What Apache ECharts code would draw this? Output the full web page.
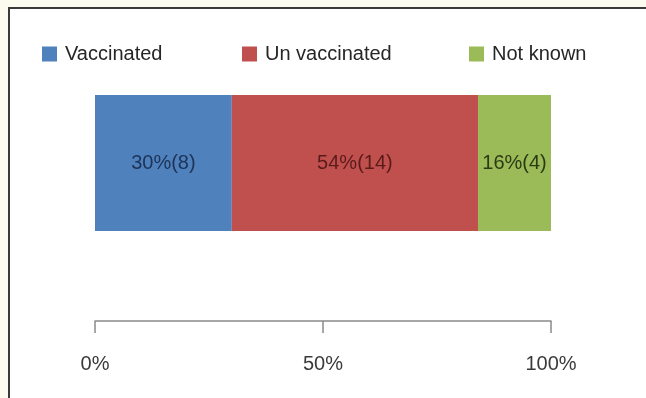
<!DOCTYPE html>
<html>
<head>
<meta charset="utf-8">
<script src="https://cdn.jsdelivr.net/npm/echarts@6/dist/echarts.min.js"></script>
<style>
  html, body { margin: 0; padding: 0; background: #fbfbef; }
  #chart { width: 646px; height: 398px; }
</style>
</head>
<body>
<div id="chart"></div>
<script>
// Vaccination status of cases (share and count)
const categories = ['Cases'];
const seriesNames = ['Vaccinated', 'Un vaccinated', 'Not known'];
const percents = [30, 54, 16];
const counts = [8, 14, 4];
const axisTicks = [0, 50, 100];

const colors = ['#4f81bd', '#c0504d', '#9bbb59'];
const labelColors = ['#1d3358', '#5a1b1b', '#2c3a14'];
const legendLeft = [42, 242, 469];
const FONT = '"Liberation Sans", Arial, sans-serif';

const chart = echarts.init(document.getElementById('chart'));

const series = seriesNames.map((name, i) => ({
  name: name,
  type: 'bar',
  stack: 'total',
  barWidth: 136,
  data: [percents[i]],
  itemStyle: { color: colors[i] },
  label: {
    show: true,
    position: 'inside',
    formatter: () => percents[i] + '%(' + counts[i] + ')',
    color: labelColors[i],
    fontFamily: FONT,
    fontSize: 20
  },
  emphasis: { disabled: true }
}));

chart.setOption({
  animation: false,
  backgroundColor: '#fbfbef',
  graphic: [{
    type: 'rect',
    z: -10,
    shape: { x: 9, y: 8, width: 660, height: 420 },
    style: { fill: '#ffffff', stroke: '#3a3a3a', lineWidth: 2 }
  }],
  legend: seriesNames.map((name, i) => ({
    data: [name],
    left: legendLeft[i],
    top: 44,
    padding: 0,
    icon: 'rect',
    itemWidth: 15,
    itemHeight: 15,
    textStyle: {
      fontFamily: FONT,
      fontSize: 20,
      color: '#262626',
      padding: [0, 0, 0, 3]
    },
    selectedMode: false
  })),
  grid: { left: 95, right: 95, top: 5, bottom: 77 },
  xAxis: {
    type: 'value',
    min: axisTicks[0],
    max: axisTicks[axisTicks.length - 1],
    interval: axisTicks[1] - axisTicks[0],
    splitLine: { show: false },
    axisLine: { show: true, lineStyle: { color: '#8a8a8a', width: 1.5 } },
    axisTick: { show: true, length: 12, inside: false, lineStyle: { color: '#8a8a8a', width: 1.5 } },
    axisLabel: {
      formatter: '{value}%',
      fontFamily: FONT,
      fontSize: 20,
      color: '#3a3a3a',
      margin: 33
    }
  },
  yAxis: {
    type: 'category',
    data: categories,
    show: false
  },
  series: series
});
</script>
</body>
</html>
